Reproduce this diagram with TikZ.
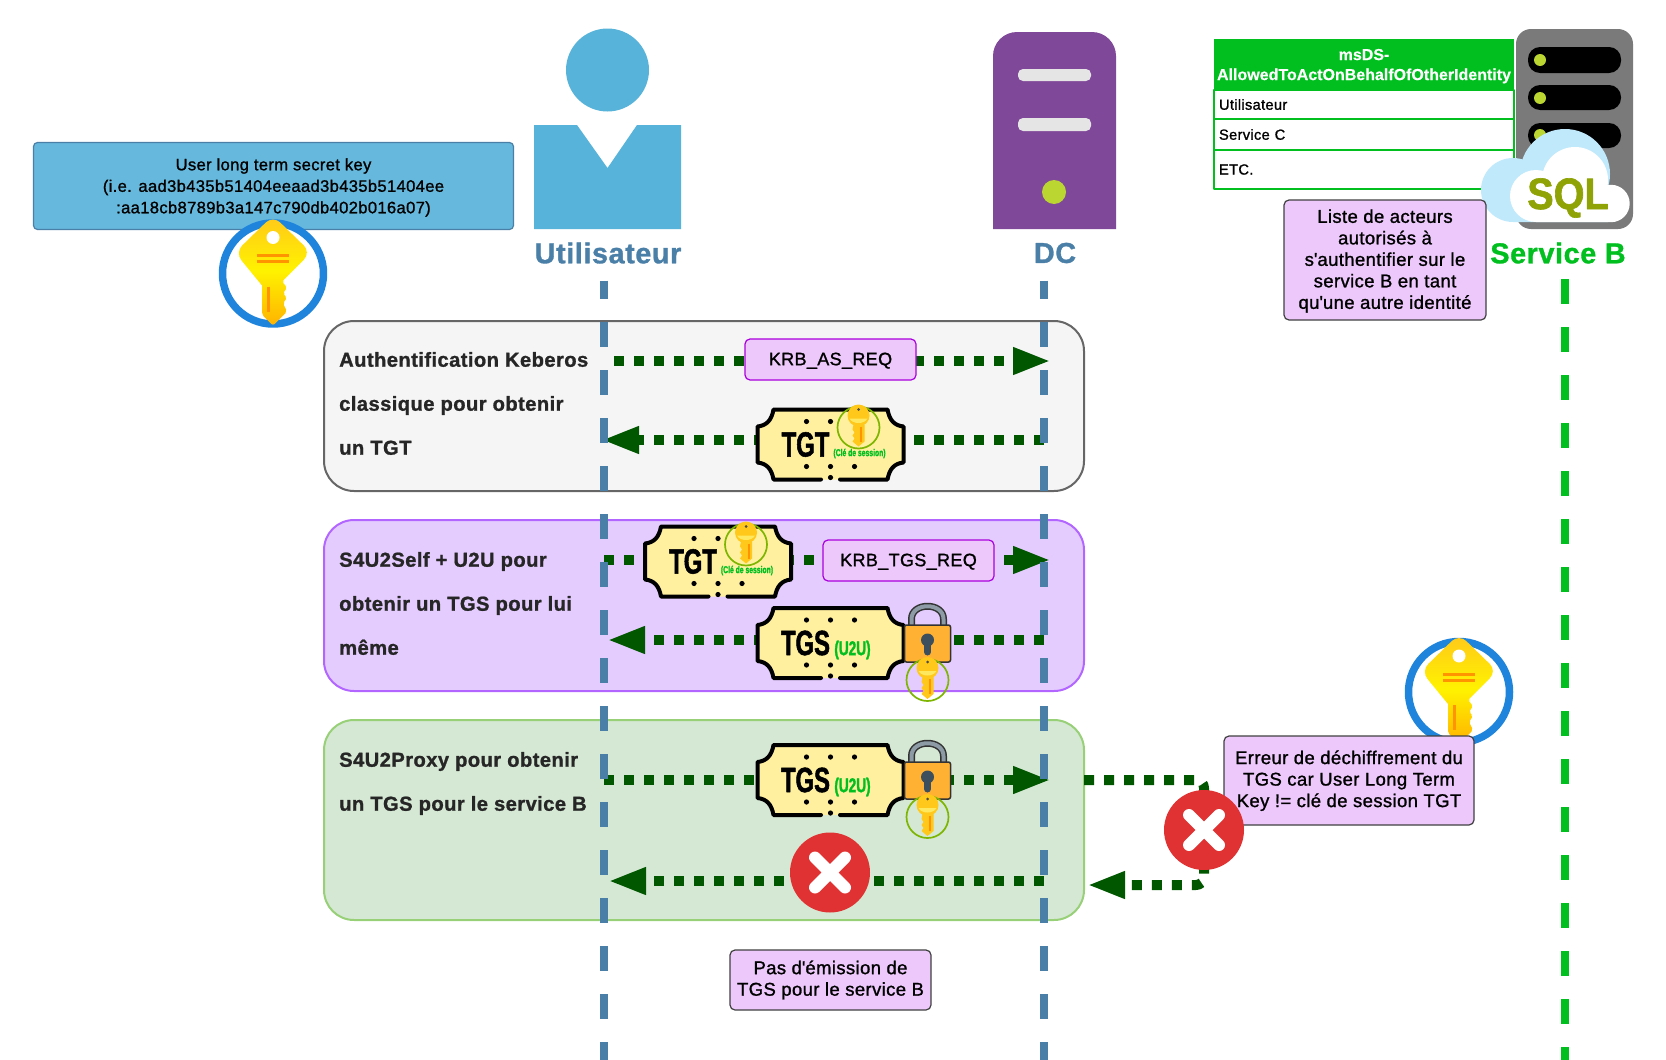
\documentclass[tikz,border=0pt]{standalone}
\usepackage{fontspec}
\usepackage{xcolor}
\setmainfont[FakeBold=1.1,LetterSpace=2]{Liberation Sans}
\newfontfamily\condfont[FakeStretch=0.68,FakeBold=1.5]{Liberation Sans}
\newfontfamily\sqlfont[FakeStretch=0.9,FakeBold=1.5]{Liberation Sans}
\newfontfamily\headfont[FakeBold=0.3]{Liberation Sans}
\usetikzlibrary{arrows.meta}
\newcommand{\lifttext}[1]{\rule{0pt}{#1pt}}

\definecolor{usercol}{HTML}{57B3D9}
\definecolor{keyboxcol}{HTML}{66B8DC}
\definecolor{titlecol}{HTML}{4A7FA7}
\definecolor{dccol}{HTML}{804899}
\definecolor{okgreen}{HTML}{00BF1F}
\definecolor{flowcol}{HTML}{005700}
\definecolor{notecol}{HTML}{ECC8FB}
\definecolor{msgline}{HTML}{AA00DD}
\definecolor{ticketcol}{HTML}{FFF0A0}
\definecolor{errcol}{HTML}{E03232}
\definecolor{keycol}{HTML}{FFC81A}
\definecolor{ringcol}{HTML}{7DB500}
\definecolor{lockcol}{HTML}{FFB133}
\definecolor{shacklecol}{HTML}{8C9BA5}
\definecolor{holecol}{HTML}{3D4F5C}
\definecolor{bigring}{HTML}{1E84DC}
\definecolor{ledcol}{HTML}{BCD631}
\definecolor{sqlcol}{HTML}{8FA307}
\definecolor{cloudcol}{HTML}{C0E9FB}
\definecolor{selffill}{HTML}{E5CCFF}
\definecolor{selfline}{HTML}{B266FF}
\definecolor{proxyfill}{HTML}{D5E8D4}
\definecolor{proxyline}{HTML}{97D077}

\tikzset{
  pics/bigkey/.style={code={
    \draw[line width=7.5pt, draw=bigring, fill=white] (0,0) circle (50.5pt);
    \path[top color=keycol, bottom color=orange!60!yellow, middle color=yellow!90!orange]
      (-11,12) [rounded corners=10pt] -- (-38,-21) -- (0,-58) -- (38,-21) [rounded corners=2pt] -- (9,8) -- (14,14) -- (10,20) -- (14,24) -- (10,30) -- (14,38) -- (0,52) -- (-11,41) [sharp corners] -- cycle;
    \fill[white] (0,-36) circle (6.5pt);
    \draw[line width=3pt, orange!85!yellow] (-16,-18) -- (16,-18) (-16,-12) -- (16,-12) (-4.5,13) -- (-4.5,38);
  }},
  pics/smallkey/.style={code={
    \draw[line width=1.7pt, ringcol] (0,0) circle (21pt);
    \fill[keycol] (0,-12) circle (11pt);
    \fill[yellow!50!white!70!keycol] (-9,-9) -- (9,-9) .. controls (6,-3) and (-6,-3) .. (-9,-9);
    \fill[black!70] (0,-18) circle (1.5pt);
    \fill[keycol] (-5,-3) -- (6,-3) -- (6,14) -- (0,19) -- (-6,14) -- (-4,11) -- (-6,8) -- (-4,5) -- (-6,2) -- cycle;
    \draw[line width=2pt, orange!85!yellow] (2.5,-1) -- (2.5,14);
  }},
  pics/ticket/.style={code={
    \fill[ticketcol] (-57,-35) -- (57,-35) .. controls (59,-24) and (64,-19) .. (73,-18) -- (73,18) .. controls (64,19) and (59,24) .. (57,35) -- (-57,35) .. controls (-59,24) and (-64,19) .. (-73,18) -- (-73,-18) .. controls (-64,-19) and (-59,-24) .. (-57,-35) -- cycle;
    \draw[line width=4pt, line cap=round] (-9.5,35) -- (-57,35) .. controls (-59,24) and (-64,19) .. (-73,18) -- (-73,-18) .. controls (-64,-19) and (-59,-24) .. (-57,-35) -- (57,-35) .. controls (59,-24) and (64,-19) .. (73,-18) -- (73,18) .. controls (64,19) and (59,24) .. (57,35) -- (9.5,35);
    \foreach \dotx/\doty in {-24/-23, 0/-23, -24/22, 0/22, 24/22, 0/33}
      \fill (\dotx,\doty) circle (2.6pt);
  }},
  pics/tgtticket/.style={code={
    \pic {ticket};
    \fill (24,-23) circle (2.6pt);
    \node[ticketlabel] (-label) at (-25,0) {TGT};
    \pic at (28,-17) {smallkey};
    \node[smalllabel, font=\condfont\bfseries\fontsize{10}{10}\selectfont] (-session) at (29,9) {(Clé de session)};
  }},
  pics/tgsticket/.style={code={
    \pic {ticket};
    \fill (24,-23) circle (2.6pt);
    \node[ticketlabel] (-label) at (-25,0) {TGS};
    \node[smalllabel, font=\condfont\bfseries\fontsize{20}{20}\selectfont] (-u2u) at (22,7) {(U2U)};
    \draw[line width=7pt, black!80] (81,-18) -- (81,-24) .. controls (81,-41) and (113,-41) .. (113,-24) -- (113,-18);
    \draw[line width=4pt, shacklecol] (81,-18) -- (81,-24) .. controls (81,-41) and (113,-41) .. (113,-24) -- (113,-18);
    \draw[line width=1.5pt, black!80, fill=lockcol, rounded corners=2pt] (74,-18) rectangle (120,19);
    \fill[holecol] (97,-3) circle (6.5pt);
    \draw[line width=7pt, line cap=round, holecol] (97,-1) -- (97,9);
    \pic at (97,37) {smallkey};
  }},
  pics/errmark/.style={code={
    \fill[errcol] (0,0) circle (40pt);
    \draw[line width=12pt, line cap=round, white] (-15,-15) -- (15,15) (-15,15) -- (15,-15);
  }},
}

\begin{document}
\begin{tikzpicture}[x=1pt, y=-1pt, line join=round,
  every node/.style={inner sep=0pt, align=center},
  lane/.style={rounded corners=30pt, line width=2pt, minimum width=760pt},
  lanetext/.style={anchor=west, align=left, font=\fontsize{20.2}{44}\selectfont\bfseries, text=black!85},
  note/.style={draw=black!75, fill=notecol, line width=1.2pt, rounded corners=5pt, font=\fontsize{18.5}{21.5}\selectfont},
  msgbox/.style={draw=msgline, fill=notecol, line width=1.2pt, rounded corners=5pt, font=\fontsize{18}{21.5}\selectfont, minimum width=171pt, minimum height=41pt},
  actor/.style={font=\fontsize{28.8}{32}\selectfont\bfseries},
  rowbox/.style={draw=okgreen, line width=1.2pt, fill=white, text width=290pt, inner xsep=5pt, align=left, font=\fontsize{14.7}{16}\selectfont},
  life/.style={line width=8pt, dash pattern=on 24.5pt off 23.5pt},
  flow/.style={draw=flowcol, line width=10pt, dash pattern=on 10pt off 10pt, -{Triangle[length=38pt,width=25pt]}},
  ticketlabel/.style={font=\condfont\bfseries\fontsize{35}{35}\selectfont},
  smalllabel/.style={text=okgreen},
]
  \useasboundingbox (0,0) rectangle (1666,1060);

  \fill[usercol] (607.5,70) circle (41.5pt);
  \fill[usercol] (534,125) -- (577,125) -- (607.5,168) -- (637,125) -- (681,125) -- (681,229) -- (534,229) -- cycle;
  \node[actor, text=titlecol] (user) at (608,253) {Utilisateur};

  \fill[dccol] (993,229) [rounded corners=24pt] -- (993,32) -- (1116,32) [sharp corners] -- (1116,229) -- cycle;
  \fill[black!10!white, rounded corners=5pt] (1018,69) rectangle (1091,81);
  \fill[black!10!white, rounded corners=5pt] (1018,118) rectangle (1091,131);
  \fill[ledcol] (1054,192) circle (12pt);
  \node[actor, text=titlecol] (dc) at (1055,253) {DC};

  \node[draw=titlecol, fill=keyboxcol, line width=1.2pt, rounded corners=4pt, minimum width=480pt, minimum height=87pt, font=\fontsize{16.6}{21.5}\selectfont] (userkey) at (273.5,186)
    {\lifttext{15}User long term secret key\\(i.e. aad3b435b51404eeaad3b435b51404ee\\:aa18cb8789b3a147c790db402b016a07)};
  \pic (userkeyicon) at (273,273.5) {bigkey};

  \node[draw=black!60, fill=black!4, lane, minimum height=170pt] (lanekerb) at (704,406) {};
  \node[draw=selfline, fill=selffill, lane, minimum height=171pt] (laneself) at (704,605.5) {};
  \node[draw=proxyline, fill=proxyfill, lane, minimum height=200pt] (laneproxy) at (704,820) {};
  \node[lanetext] (kerbtext) at (339,403.5) {Authentification Keberos\\classique pour obtenir\\un TGT};
  \node[lanetext] (selftext) at (339,603.5) {S4U2Self + U2U pour\\obtenir un TGS pour lui\\même};
  \node[lanetext] (proxytext) at (339,783.5) {S4U2Proxy pour obtenir\\un TGS pour le service B};

  \coordinate (asfrom) at (614,361);
  \coordinate (asto) at (1051,361);
  \coordinate (tgtfrom) at (1044,440);
  \coordinate (tgtto) at (601,440);
  \coordinate (tgsfrom) at (604,560);
  \coordinate (tgsto) at (1051,560);
  \coordinate (u2ufrom) at (1044,640);
  \coordinate (u2uto) at (607,640);
  \coordinate (proxyfrom) at (604,780);
  \coordinate (proxyto) at (1051,780);
  \coordinate (nofrom) at (1044,881);
  \coordinate (noto) at (608,881);
  \coordinate (svcfrom) at (1084,780);
  \coordinate (svcturn) at (1204,780);
  \coordinate (svcback) at (1204,885);
  \coordinate (svcto) at (1087,885);
  \draw[flow] (asfrom) -- (asto);
  \draw[flow] (tgtfrom) -- (tgtto);
  \draw[flow] (tgsfrom) -- (tgsto);
  \draw[flow] (u2ufrom) -- (u2uto);
  \draw[flow] (proxyfrom) -- (proxyto);
  \draw[flow] (nofrom) -- (noto);
  \draw[flow, rounded corners=8pt] (svcfrom) -- (svcturn) -- (svcback) -- (svcto);

  \coordinate (userlife) at (604,280.5);
  \coordinate (userend) at (604,1060);
  \coordinate (dclife) at (1044,280.5);
  \coordinate (dcend) at (1044,1060);
  \coordinate (svclife) at (1565,279);
  \coordinate (svcend) at (1565,1060);
  \draw[life, titlecol, dash phase=6.5pt] (userlife) -- (userend);
  \draw[life, titlecol, dash phase=6.5pt] (dclife) -- (dcend);
  \draw[life, okgreen] (svclife) -- (svcend);

  \node[msgbox] (asreq) at (830.5,359.5) {\lifttext{15}KRB\_AS\_REQ};
  \node[msgbox] (tgsreq) at (908.5,560.5) {\lifttext{15}KRB\_TGS\_REQ};
  \pic (tgta) at (830.5,444.5) {tgtticket};
  \pic (tgtb) at (718,561.5) {tgtticket};
  \pic (tgsa) at (830.5,643) {tgsticket};
  \pic (tgsb) at (830.5,780) {tgsticket};
  \pic (errdc) at (830,872.5) {errmark};
  \node[note, minimum width=201pt, minimum height=60pt] (noemit) at (830.5,980) {Pas d\textquotesingle émission de\\TGS pour le service B};

  \pic (svckeyicon) at (1459,692) {bigkey};
  \node[note, minimum width=250pt, minimum height=89pt] (errnote) at (1349,780.5) {\lifttext{14}Erreur de déchiffrement du\\TGS car User Long Term\\Key != clé de session TGT};
  \pic (errsvc) at (1204,830) {errmark};

  \node[rowbox, minimum height=29pt] (rowuser) at (1364,104.5) {Utilisateur};
  \node[rowbox, minimum height=31pt] (rowsvc) at (1364,134.5) {Service C};
  \node[rowbox, minimum height=39pt] (rowetc) at (1364,169.5) {ETC.};
  \node[fill=okgreen, text=white, minimum width=300pt, minimum height=51pt, font=\headfont\bfseries\fontsize{16}{20}\selectfont] (rowhead) at (1364,64.5) {\lifttext{14.5}msDS-\\AllowedToActOnBehalfOfOtherIdentity};

  \fill[black!52, rounded corners=15pt] (1516,29) rectangle (1633,229);
  \foreach \slotx/\sloty in {47/73, 85/110, 123/148} {
    \fill[rounded corners=12pt] (1528,\slotx) rectangle (1621,\sloty);
  }
  \foreach \ledy in {60, 98, 135}
    \fill[ledcol] (1540,\ledy) circle (6pt);
  \fill[cloudcol] (1513,190) circle (32pt) (1565,174) circle (45pt) (1513,190) rectangle (1608,222);
  \fill[white] (1536,196) circle (26pt) (1575,180) circle (33pt) (1611,203.5) circle (18.7pt) (1536,200) rectangle (1611,222);
  \node[text=sqlcol, font=\sqlfont\bfseries\fontsize{44}{44}\selectfont] (sqltext) at (1568,198) {SQL};
  \node[actor, text=okgreen] (svcb) at (1558,253) {Service B};
  \node[note, minimum width=202pt, minimum height=120pt] (aclnote) at (1385,260) {\lifttext{15.5}Liste de acteurs\\autorisés à\\s\textquotesingle authentifier sur le\\service B en tant\\qu\textquotesingle une autre identité};
\end{tikzpicture}
\end{document}
